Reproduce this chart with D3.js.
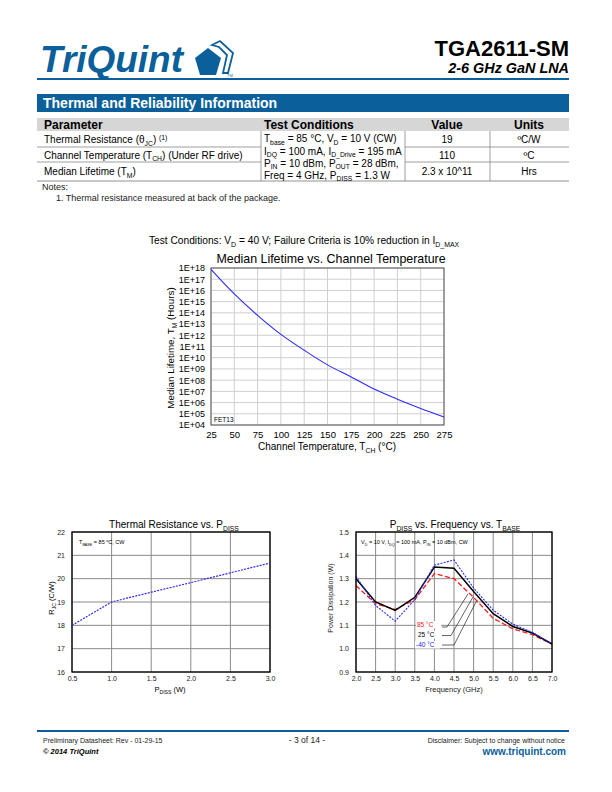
<!DOCTYPE html>
<html><head><meta charset="utf-8">
<script src="https://cdn.jsdelivr.net/npm/d3@7"></script>
<style>body{margin:0;background:#fff}svg{display:block;font-family:"Liberation Sans",Arial,sans-serif}</style>
</head><body><svg id="c" width="612" height="792"></svg>
<script>
// ---------- DATA ----------
const lifeTemps = [25, 50, 75, 100, 125, 150, 175, 200, 225, 250, 275];
const lifeHours = [7.6e17, 4.9e15, 6.0e13, 1.2e12, 4.6e10, 2.3e9, 2.0e8, 1.6e7, 2.0e6, 3.0e5, 5.2e4];
const lifeYTicks = [1e4,1e5,1e6,1e7,1e8,1e9,1e10,1e11,1e12,1e13,1e14,1e15,1e16,1e17,1e18];
const lifeXTicks = [25, 50, 75, 100, 125, 150, 175, 200, 225, 250, 275];

const rthPdiss = [0.5, 1.0, 1.5, 2.0, 2.5, 3.0];
const rthValues = [18.0, 19.0, 19.42, 19.83, 20.25, 20.67];
const rthXTicks = [0.5, 1.0, 1.5, 2.0, 2.5, 3.0];
const rthYTicks = [16, 17, 18, 19, 20, 21, 22];

const freqGHz = [2.0, 2.5, 3.0, 3.5, 4.0, 4.5, 5.0, 5.5, 6.0, 6.5, 7.0];
const pdiss85 = [1.27, 1.193, 1.168, 1.21, 1.322, 1.30, 1.22, 1.13, 1.085, 1.06, 1.02];
const pdiss25 = [1.30, 1.20, 1.164, 1.22, 1.35, 1.345, 1.245, 1.15, 1.095, 1.067, 1.02];
const pdissM40 = [1.31, 1.185, 1.118, 1.21, 1.358, 1.38, 1.26, 1.165, 1.105, 1.07, 1.02];
const freqTicks = [2.0, 2.5, 3.0, 3.5, 4.0, 4.5, 5.0, 5.5, 6.0, 6.5, 7.0];
const pdissTicks = [0.9, 1.0, 1.1, 1.2, 1.3, 1.4, 1.5];
const pdissLegend = ["85 °C", "25 °C", "-40 °C"];

const tableHeaders = ["Parameter", "Test Conditions", "Value", "Units"];
const tableValues = ["19", "110", "2.3 x 10^11"];
const tableUnits = ["ºC/W", "ºC", "Hrs"];

// ---------- HELPERS ----------
const BLUE = "#0b5f9a";
const svg = d3.select("#c");
svg.append("rect").attr("width", 612).attr("height", 792).attr("fill", "#fff");

function rich(g, x, y, parts, size, opts = {}) {
  const t = g.append("text").attr("x", x).attr("y", y).attr("font-size", size)
    .attr("fill", opts.fill || "#000").attr("text-anchor", opts.anchor || "start");
  if (opts.weight) t.attr("font-weight", opts.weight);
  if (opts.style) t.attr("font-style", opts.style);
  if (opts.transform) t.attr("transform", opts.transform);
  let shift = 0;
  parts.forEach(([s, m]) => {
    const ts = t.append("tspan").text(s);
    let target = 0, fs = size;
    if (m === "sub") { target = size * 0.28; fs = size * 0.68; }
    if (m === "sup") { target = -size * 0.35; fs = size * 0.68; }
    ts.attr("dy", target - shift).attr("font-size", fs);
    shift = target;
  });
  return t;
}

// ---------- HEADER ----------
svg.append("text").attr("x", 40).attr("y", 72).attr("font-size", 36).attr("font-weight", "bold")
  .attr("font-style", "italic").attr("fill", BLUE).attr("textLength", 143).attr("lengthAdjust", "spacingAndGlyphs").text("TriQuint");
svg.append("path").attr("d", "M208,48 L221,58 L216,75 L200,75 L195,58 Z").attr("fill", BLUE);
svg.append("path").attr("d", "M212,45 L220,41 L233,53 L228,73 L223,73 L227,55 L219,47 Z")
  .attr("fill", "none").attr("stroke", BLUE).attr("stroke-width", 1.8).attr("stroke-linejoin", "miter");
svg.append("text").attr("x", 227).attr("y", 77).attr("font-size", 4).attr("fill", BLUE).text("TM");

svg.append("text").attr("x", 569).attr("y", 56).attr("text-anchor", "end").attr("font-size", 22)
  .attr("font-weight", "bold").text("TGA2611-SM");
svg.append("text").attr("x", 569).attr("y", 73).attr("text-anchor", "end").attr("font-size", 14.4)
  .attr("font-weight", "bold").attr("font-style", "italic").text("2-6 GHz GaN LNA");
svg.append("rect").attr("x", 37).attr("y", 78).attr("width", 532).attr("height", 2).attr("fill", BLUE);

svg.append("rect").attr("x", 37).attr("y", 94).attr("width", 532).attr("height", 18).attr("fill", BLUE);
svg.append("text").attr("x", 43).attr("y", 108).attr("font-size", 14).attr("font-weight", "bold")
  .attr("fill", "#fff").text("Thermal and Reliability Information");

// ---------- TABLE ----------
const tb = svg.append("g");
tb.append("rect").attr("x", 37).attr("y", 118).attr("width", 532).attr("height", 13).attr("fill", "#d6d6d6");
tb.append("text").attr("x", 44).attr("y", 129).attr("font-size", 12).attr("font-weight", "bold").text(tableHeaders[0]);
tb.append("text").attr("x", 264).attr("y", 129).attr("font-size", 12).attr("font-weight", "bold").text(tableHeaders[1]);
tb.append("text").attr("x", 447).attr("y", 129).attr("text-anchor", "middle").attr("font-size", 12).attr("font-weight", "bold").text(tableHeaders[2]);
tb.append("text").attr("x", 529).attr("y", 129).attr("text-anchor", "middle").attr("font-size", 12).attr("font-weight", "bold").text(tableHeaders[3]);

const lineC = "#777";
[147, 162].forEach(y => {
  tb.append("line").attr("x1", 37).attr("x2", 261).attr("y1", y).attr("y2", y).attr("stroke", lineC).attr("stroke-width", 0.7);
  tb.append("line").attr("x1", 405).attr("x2", 569).attr("y1", y).attr("y2", y).attr("stroke", lineC).attr("stroke-width", 0.7);
});
tb.append("line").attr("x1", 37).attr("x2", 569).attr("y1", 181).attr("y2", 181).attr("stroke", lineC).attr("stroke-width", 0.8);
[261, 405, 490].forEach(x => tb.append("line").attr("x1", x).attr("x2", x).attr("y1", 131).attr("y2", 181).attr("stroke", lineC).attr("stroke-width", 0.7));

const fsT = 10;
rich(tb, 44, 143, [["Thermal Resistance (θ", null], ["JC", "sub"], [")  ", null], ["(1)", "sup"]], fsT);
rich(tb, 44, 158.5, [["Channel Temperature (T", null], ["CH", "sub"], [") (Under RF drive)", null]], fsT);
rich(tb, 44, 175, [["Median Lifetime (T", null], ["M", "sub"], [")", null]], fsT);

rich(tb, 264, 142, [["T", null], ["base", "sub"], [" = 85 °C, V", null], ["D", "sub"], [" = 10 V (CW)", null]], fsT);
rich(tb, 264, 154.5, [["I", null], ["DQ", "sub"], ["  = 100 mA, I", null], ["D_Drive", "sub"], [" = 195 mA", null]], fsT);
rich(tb, 264, 166.5, [["P", null], ["IN", "sub"], [" = 10 dBm, P", null], ["OUT", "sub"], [" = 28 dBm,", null]], fsT);
rich(tb, 264, 178.5, [["Freq = 4 GHz, P", null], ["DISS", "sub"], [" = 1.3 W", null]], fsT);

const valY = [143, 158.5, 175];
tableValues.forEach((v, i) => tb.append("text").attr("x", 447).attr("y", valY[i]).attr("text-anchor", "middle").attr("font-size", fsT).text(v));
tableUnits.forEach((v, i) => tb.append("text").attr("x", 529).attr("y", valY[i]).attr("text-anchor", "middle").attr("font-size", fsT).text(v));

tb.append("text").attr("x", 42).attr("y", 190).attr("font-size", 9).attr("fill", "#222").text("Notes:");
tb.append("text").attr("x", 56).attr("y", 201).attr("font-size", 9).attr("fill", "#222").text("1. Thermal resistance measured at back of the package.");

// ---------- CHART 1: Median lifetime ----------
{
  const g = svg.append("g");
  const x = d3.scaleLinear().domain([25, 275]).range([211, 444]);
  const y = d3.scaleLog().domain([1e4, 1e18]).range([425, 268]);
  rich(g, 149, 244, [["Test Conditions:  V", null], ["D", "sub"], ["  = 40 V; Failure Criteria is 10% reduction in  I", null], ["D_MAX", "sub"]], 10.2);
  g.append("text").attr("x", 331).attr("y", 263).attr("text-anchor", "middle").attr("font-size", 12.4).text("Median Lifetime vs. Channel Temperature");

  g.append("g").selectAll("line").data(lifeXTicks).join("line")
    .attr("x1", d => x(d)).attr("x2", d => x(d)).attr("y1", 268).attr("y2", 425).attr("stroke", "#cfcfcf").attr("stroke-width", 1);
  g.append("g").selectAll("line").data(lifeYTicks).join("line")
    .attr("x1", 211).attr("x2", 444).attr("y1", d => y(d)).attr("y2", d => y(d)).attr("stroke", "#cfcfcf").attr("stroke-width", 1);
  g.append("rect").attr("x", 211).attr("y", 268).attr("width", 233).attr("height", 157).attr("fill", "none").attr("stroke", "#555").attr("stroke-width", 1);

  const fmt = d => "1E+" + String(Math.round(Math.log10(d))).padStart(2, "0");
  const ya = g.append("g").attr("transform", "translate(211,0)")
    .call(d3.axisLeft(y).tickValues(lifeYTicks).tickFormat(fmt).tickSize(0).tickPadding(6));
  ya.select(".domain").remove();
  ya.selectAll("text").attr("font-size", 9).attr("font-family", "Liberation Sans").attr("fill", "#000");
  const xa = g.append("g").attr("transform", "translate(0,425)")
    .call(d3.axisBottom(x).tickValues(lifeXTicks).tickFormat(d3.format("d")).tickSize(0).tickPadding(6));
  xa.select(".domain").remove();
  xa.selectAll("text").attr("font-size", 9.5).attr("font-family", "Liberation Sans").attr("fill", "#000");

  rich(g, 327, 450, [["Channel Temperature, T", null], ["CH", "sub"], [" (°C)", null]], 10, { anchor: "middle" });
  rich(g, 0, 0, [["Median Lifetime, T", null], ["M", "sub"], [" (Hours)", null]], 9.8, { anchor: "middle", transform: "translate(174,348) rotate(-90)" });
  g.append("text").attr("x", 214).attr("y", 422).attr("font-size", 6.5).text("FET13");

  const line = d3.line().x((d, i) => x(lifeTemps[i])).y(d => y(d)).curve(d3.curveCatmullRom.alpha(0.5));
  g.append("path").attr("d", line(lifeHours)).attr("fill", "none").attr("stroke", "#2a2aff").attr("stroke-width", 1.1);
}

// ---------- CHART 2: Thermal resistance ----------
{
  const g = svg.append("g");
  const x = d3.scaleLinear().domain([0.5, 3.0]).range([72, 270]);
  const y = d3.scaleLinear().domain([16, 22]).range([672, 532]);
  rich(g, 174, 528, [["Thermal Resistance vs. P", null], ["DISS", "sub"]], 10, { anchor: "middle" });
  g.append("g").selectAll("line").data(rthXTicks).join("line")
    .attr("x1", d => x(d)).attr("x2", d => x(d)).attr("y1", 532).attr("y2", 672).attr("stroke", "#8a8a8a").attr("stroke-width", 1);
  g.append("g").selectAll("line").data(rthYTicks).join("line")
    .attr("x1", 72).attr("x2", 270).attr("y1", d => y(d)).attr("y2", d => y(d)).attr("stroke", "#8a8a8a").attr("stroke-width", 1);
  g.append("rect").attr("x", 72).attr("y", 532).attr("width", 198).attr("height", 140).attr("fill", "none").attr("stroke", "#000").attr("stroke-width", 1.3);
  const ya = g.append("g").attr("transform", "translate(72,0)")
    .call(d3.axisLeft(y).tickValues(rthYTicks).tickFormat(d3.format("d")).tickSize(0).tickPadding(7));
  ya.select(".domain").remove();
  ya.selectAll("text").attr("font-size", 7).attr("font-family", "Liberation Sans").attr("fill", "#222");
  const xa = g.append("g").attr("transform", "translate(0,672)")
    .call(d3.axisBottom(x).tickValues(rthXTicks).tickFormat(d3.format(".1f")).tickSize(0).tickPadding(4));
  xa.select(".domain").remove();
  xa.selectAll("text").attr("font-size", 7).attr("font-family", "Liberation Sans").attr("fill", "#222");
  rich(g, 79, 544, [["T", null], ["BASE", "sub"], [" = 85 ", null], ["o", "sup"], ["C, CW", null]], 5.5);
  rich(g, 170, 692, [["P", null], ["DISS", "sub"], [" (W)", null]], 7.5, { anchor: "middle" });
  rich(g, 0, 0, [["R", null], ["JC", "sub"], [" (C/W)", null]], 7.5, { anchor: "middle", transform: "translate(54,598) rotate(-90)" });
  const line = d3.line().x((d, i) => x(rthPdiss[i])).y(d => y(d));
  g.append("path").attr("d", line(rthValues)).attr("fill", "none").attr("stroke", "#2b2bf0").attr("stroke-width", 1.2).attr("stroke-dasharray", "2,1.2");
}

// ---------- CHART 3: Pdiss vs frequency ----------
{
  const g = svg.append("g");
  const x = d3.scaleLinear().domain([2, 7]).range([356, 552]);
  const y = d3.scaleLinear().domain([0.9, 1.5]).range([672, 532]);
  rich(g, 455, 528, [["P", null], ["DISS", "sub"], [" vs. Frequency vs. T", null], ["BASE", "sub"]], 10, { anchor: "middle" });
  g.append("g").selectAll("line").data(freqTicks).join("line")
    .attr("x1", d => x(d)).attr("x2", d => x(d)).attr("y1", 532).attr("y2", 672).attr("stroke", "#8a8a8a").attr("stroke-width", 1);
  g.append("g").selectAll("line").data(pdissTicks).join("line")
    .attr("x1", 356).attr("x2", 552).attr("y1", d => y(d)).attr("y2", d => y(d)).attr("stroke", "#8a8a8a").attr("stroke-width", 1);
  const ya = g.append("g").attr("transform", "translate(356,0)")
    .call(d3.axisLeft(y).tickValues(pdissTicks).tickFormat(d3.format(".1f")).tickSize(0).tickPadding(7));
  ya.select(".domain").remove();
  ya.selectAll("text").attr("font-size", 7).attr("font-family", "Liberation Sans").attr("fill", "#222");
  const xa = g.append("g").attr("transform", "translate(0,672)")
    .call(d3.axisBottom(x).tickValues(freqTicks).tickFormat(d3.format(".1f")).tickSize(0).tickPadding(4));
  xa.select(".domain").remove();
  xa.selectAll("text").attr("font-size", 7).attr("font-family", "Liberation Sans").attr("fill", "#222");
  rich(g, 361, 544, [["V", null], ["D", "sub"], [" = 10 V, I", null], ["DQ", "sub"], [" = 100 mA, P", null], ["IN", "sub"], [" = 10 dBm, CW", null]], 5.5);
  g.append("text").attr("x", 454).attr("y", 692).attr("text-anchor", "middle").attr("font-size", 7.5).attr("fill", "#222").text("Frequency (GHz)");
  g.append("text").attr("transform", "translate(333,598) rotate(-90)").attr("text-anchor", "middle").attr("font-size", 7).attr("fill", "#222").text("Power Dissipation (W)");

  const legY = [627, 637, 647];
  const legCol = ["#ff2020", "#000", "#2020ff"];
  const legX = [417, 418, 416];
  const lead = [
    [[442, 627], [447, 627], [468, 594]],
    [[442, 635.5], [451, 635.5], [473, 597]],
    [[442, 645], [454, 645], [477, 600]]
  ];
  lead.forEach(pts => g.append("path").attr("d", d3.line()(pts)).attr("fill", "none").attr("stroke", "#222").attr("stroke-width", 0.7));
  pdissLegend.forEach((s, i) => {
    g.append("rect").attr("x", legX[i] - 1).attr("y", legY[i] - 6).attr("width", 25).attr("height", 7.5).attr("fill", "#fff");
    g.append("text").attr("x", legX[i]).attr("y", legY[i]).attr("font-size", 6.5).attr("fill", legCol[i]).text(s);
  });

  const line = d3.line().x((d, i) => x(freqGHz[i])).y(d => y(d));
  g.append("path").attr("d", line(pdiss85)).attr("fill", "none").attr("stroke", "#ff1a1a").attr("stroke-width", 1.3).attr("stroke-dasharray", "5,2.5");
  g.append("path").attr("d", line(pdiss25)).attr("fill", "none").attr("stroke", "#000").attr("stroke-width", 1.5);
  g.append("path").attr("d", line(pdissM40)).attr("fill", "none").attr("stroke", "#2a2aff").attr("stroke-width", 1.1).attr("stroke-dasharray", "2,1.3");
  g.append("rect").attr("x", 356).attr("y", 532).attr("width", 196).attr("height", 140).attr("fill", "none").attr("stroke", "#000").attr("stroke-width", 1.3);
}

// ---------- FOOTER ----------
svg.append("rect").attr("x", 37).attr("y", 730).attr("width", 532).attr("height", 2).attr("fill", BLUE);
svg.append("text").attr("x", 43).attr("y", 743).attr("font-size", 7).attr("fill", "#222").text("Preliminary Datasheet:  Rev -  01-29-15");
svg.append("text").attr("x", 43).attr("y", 754).attr("font-size", 7.5).attr("font-weight", "bold").attr("font-style", "italic").text("© 2014 TriQuint");
svg.append("text").attr("x", 307).attr("y", 743).attr("text-anchor", "middle").attr("font-size", 8.5).attr("fill", "#222").text("- 3 of 14 -");
svg.append("text").attr("x", 565).attr("y", 743).attr("text-anchor", "end").attr("font-size", 7).attr("fill", "#222").text("Disclaimer: Subject to change without notice");
svg.append("text").attr("x", 566).attr("y", 755).attr("text-anchor", "end").attr("font-size", 10).attr("font-weight", "bold").attr("fill", BLUE).text("www.triquint.com");
</script></body></html>
